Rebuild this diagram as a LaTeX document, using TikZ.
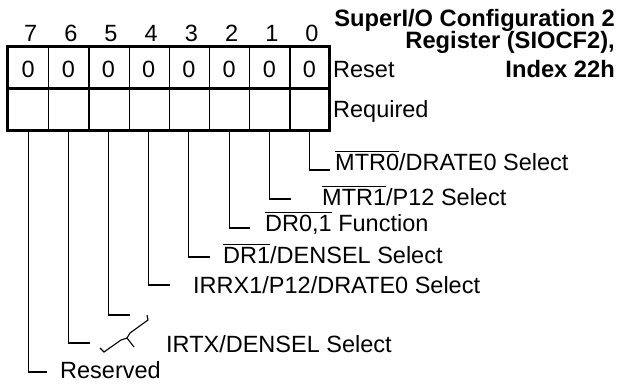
\documentclass[tikz,border=0pt]{standalone}
\usepackage{fontspec}
\setmainfont{Liberation Sans}
\newcommand{\ovl}[1]{\setbox0=\hbox{#1}\rlap{\raisebox{\dimexpr\ht0+2.2bp\relax}{\rule{\wd0}{1.1bp}}}\box0\relax}
\begin{document}
\begin{tikzpicture}[x=1bp,y=-1bp,
  every node/.style={font=\fontsize{23.5bp}{27bp}\selectfont, inner sep=0pt},
  thinline/.style={line width=1.1bp},
  thickline/.style={line width=3bp},
  lbl/.style={anchor=base west},
  ttl/.style={anchor=base east, font=\fontsize{23.7bp}{27bp}\selectfont\bfseries}]
\useasboundingbox (0,0) rectangle (621,383);
% grid
\foreach \i in {0,...,6} \draw[thinline] ({48.8+40.2*\i},46) -- ({48.8+40.2*\i},130);
\draw[thickline] (7,46) rectangle (329,130);
\draw[thickline] (7,88) -- (329,88);
% bit numbers, reset values
\foreach \b in {0,...,7} {
  \node[anchor=base] (n\b) at ({312-40.2*\b},41) {\b};
  \node (r\b) at ({309.5-40.2*\b},69.5) {0};
  \coordinate (s\b) at ({309.5-40.2*\b},130);
}
% row labels
\node[lbl] (reset) at (333,77) {Reset};
\node[lbl] (req) at (333,117) {Required};
% title
\node[ttl] (t1) at (615,26.5) {SuperI/O Configuration 2};
\node[ttl] (t2) at (615,48.5) {Register (SIOCF2),};
\node[ttl] (t3) at (615,77) {Index 22h};
% leader ends
\coordinate (e0) at (330,170);
\coordinate (e1) at (291,199);
\coordinate (e2) at (250,228);
\coordinate (e3) at (210,257);
\coordinate (e4) at (170,285);
\coordinate (e5) at (130,315);
\coordinate (e6) at (90,343);
\coordinate (e7) at (47,372);
\foreach \b in {0,...,7} \draw[thinline] (s\b) |- (e\b);
% labels
\node[lbl] (l0) at (335,170.5) {\ovl{MTR0}/DRATE0 Select};
\node[lbl] (l1) at (322,205.5) {\ovl{MTR1}/P12 Select};
\node[lbl] (l2) at (265,231.5) {\ovl{DR0,1} Function};
\node[lbl] (l3) at (223,263.5) {\ovl{DR1}/DENSEL Select};
\node[lbl] (l4) at (193,293.5) {IRRX1/P12/DRATE0 Select};
\node[lbl] (l56) at (166,352) {IRTX/DENSEL Select};
\node[lbl] (l7) at (60,378) {Reserved};
% brace
\draw[thinline] (100,348) -- (104,352) -- (121,340) -- (127,338) -- (134,347);
\draw[thinline] (127,338) -- (130,333) -- (148,320) -- (147,315);
\end{tikzpicture}
\end{document}
